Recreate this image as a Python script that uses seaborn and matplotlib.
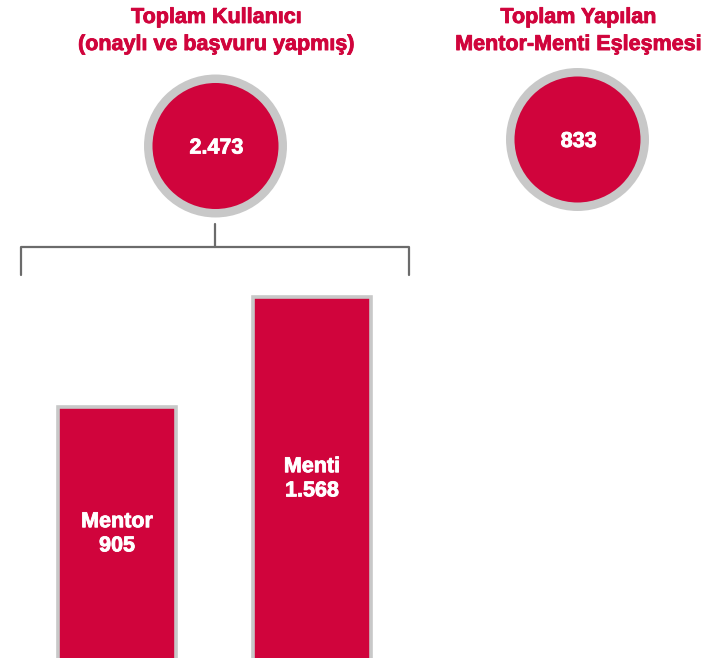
import numpy as np
import pandas as pd
import matplotlib
matplotlib.use("Agg")
import matplotlib.pyplot as plt
import matplotlib.patheffects as pe
from matplotlib.patches import Circle
import seaborn as sns

RED = '#d0043c'
GREY = '#c8c8c8'
LINE = '#6b6b6b'

# data
titles = ['Toplam Kullanıcı\n(onaylı ve başvuru yapmış)', 'Toplam Yapılan\nMentor-Menti Eşleşmesi']
totals = ['2.473', '833']
groups = ['Mentor', 'Menti']
counts = [905, 1568]
count_labels = ['905', '1.568']

sns.set_theme(style='white')
plt.rcParams['font.family'] = ['Liberation Sans', 'DejaVu Sans']

W, H = 711, 658
fig = plt.figure(figsize=(W / 100, H / 100), dpi=100)

FS = 15.5
white_fx = [pe.withStroke(linewidth=0.6, foreground='white')]
red_fx = [pe.withStroke(linewidth=0.6, foreground=RED)]

# bars (cut off at the bottom like the original)
BASE = -700
YLIM = (-610, 1668)
ax = fig.add_axes([19.5 / W, 0, 390 / W, 378 / H])
df = pd.DataFrame({'group': groups, 'height': np.array(counts) - BASE})
sns.barplot(data=df, x='group', y='height', bottom=BASE, color=RED, saturation=1,
            width=0.61, edgecolor=GREY, linewidth=2.6, ax=ax)
ax.set_ylim(*YLIM)
ax.axis('off')
for i, (g, c, lbl) in enumerate(zip(groups, counts, count_labels)):
    ax.text(i, (c + YLIM[0]) / 2 - 9, f'{g}\n{lbl}', ha='center', va='center',
            color='white', fontsize=FS, fontweight='bold', linespacing=1.2,
            path_effects=white_fx)

# overlay in pixel units for circles, titles and bracket
ov = fig.add_axes([0, 0, 1, 1])
ov.set_xlim(0, W)
ov.set_ylim(H, 0)
ov.axis('off')

circle_x = [215.5, 577.5]
circle_y = [146, 139.5]
for cx, cy, t, tot in zip(circle_x, circle_y, titles, totals):
    ov.add_patch(Circle((cx, cy), 67.25, facecolor=RED, edgecolor=GREY, lw=6.1))
    ov.text(cx + 1, cy + 2, tot, ha='center', va='center', color='white',
            fontsize=FS, fontweight='bold', path_effects=white_fx)
    ov.text(cx + 1, 31, t, ha='center', va='center', color=RED,
            fontsize=FS, fontweight='bold', linespacing=1.38, path_effects=red_fx)

ov.plot([215, 215], [224, 247], color=LINE, lw=1.6)
ov.plot([21, 21, 409, 409], [275, 247, 247, 275], color=LINE, lw=1.6)

fig.savefig('out.png', dpi=100)
